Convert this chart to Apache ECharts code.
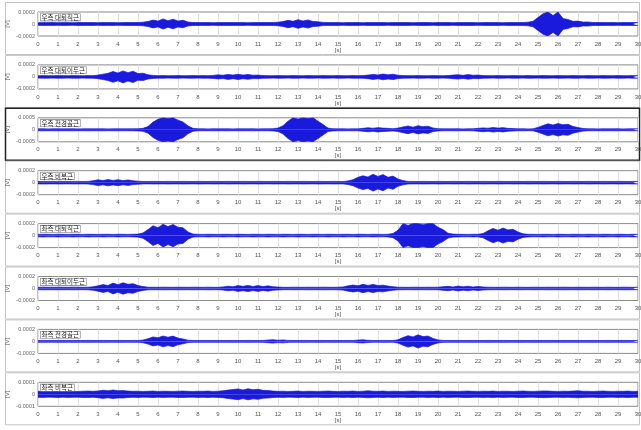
<!DOCTYPE html>
<html><head><meta charset="utf-8">
<script src="https://cdn.jsdelivr.net/npm/echarts@6/dist/echarts.min.js"></script>
<style>html,body{margin:0;padding:0;background:#fff}#c{width:641px;height:430px}</style>
</head><body><div id="c"></div>
<script>
// time step 0.25 s, 0..30 s ; amplitudes of the signal envelope in microvolts
const STEP = 0.25;
const titles = ['우측 대퇴직근','우측 대퇴이두근','우측 전경골근','우측 비복근','좌측 대퇴직근','좌측 대퇴이두근','좌측 전경골근','좌측 비복근'];
const yMax = [0.0002,0.0002,0.0005,0.0002,0.0002,0.0002,0.0002,0.0001];

const amp1 = [22,24,23,25,22,24,23,22,25,24,23,24,22,25,23,24,22,23,25,24,
 24,30,42,65,48,85,55,80,50,62,32,25,24,23,25,22,24,23,25,24,
 23,25,22,24,23,25,24,26,30,40,62,45,72,50,68,42,38,27,24,23,
 24,22,25,23,24,22,25,24,23,25,22,24,23,25,24,22,23,25,24,22,
 24,23,25,22,24,23,25,24,22,23,25,24,23,22,25,24,23,25,30,45,
 110,170,200,140,200,90,75,45,48,32,34,26,25,24,23,25,22,24,23,25,24];
const amp2 = [20,22,21,20,22,21,20,22,21,20,22,21,30,45,60,90,65,100,70,95,
 55,62,35,25,21,22,20,21,22,20,21,22,20,22,21,25,34,28,42,30,
 44,30,40,28,30,22,21,20,22,21,20,22,21,20,22,21,20,22,21,20,
 22,21,20,22,21,22,30,42,32,48,35,45,28,22,21,20,22,21,20,22,
 21,20,22,30,36,26,38,28,30,22,21,20,22,21,20,22,21,20,22,21,
 20,22,21,20,22,21,20,22,21,20,22,21,20,22,21,20,22,21,20,22,21];
const amp3 = [40,42,38,40,41,39,40,42,38,40,41,39,40,42,38,40,41,39,40,42,
 45,60,140,320,440,500,470,500,400,330,160,60,42,40,38,41,39,40,42,38,
 40,41,39,42,38,40,41,45,70,170,360,500,450,500,470,500,360,220,70,45,
 40,42,38,41,39,60,85,65,90,70,60,45,70,120,160,110,170,130,150,75,
 45,41,39,40,42,38,40,41,60,80,65,95,70,90,60,50,40,42,38,41,
 100,180,250,200,260,210,230,140,95,55,42,40,38,41,39,40,42,38,40,41,40];
const amp4 = [20,22,21,20,22,21,20,22,21,20,22,32,48,36,52,38,50,35,46,32,
 25,21,20,22,21,20,22,21,20,22,21,20,22,21,20,22,21,20,22,21,
 20,22,21,20,22,21,20,22,21,20,22,21,20,22,21,20,22,21,20,22,
 21,20,30,50,90,115,95,140,105,135,90,110,60,35,22,21,20,22,21,20,
 22,21,20,22,21,20,22,21,20,22,21,20,22,21,20,22,21,20,22,21,
 20,22,21,20,22,21,20,22,21,20,22,21,20,22,21,20,22,21,20,22,21];
const amp5 = [20,22,21,20,22,21,20,22,21,20,22,21,20,22,21,20,22,21,20,22,
 25,45,100,165,130,190,150,185,140,130,60,25,21,20,22,21,20,22,21,20,
 22,21,20,22,21,20,22,21,20,22,21,20,22,21,20,22,21,20,22,21,
 20,22,21,20,22,21,20,22,21,20,22,35,90,200,170,200,200,180,200,200,
 140,100,40,25,22,21,20,22,21,35,80,120,90,125,95,105,60,30,22,21,
 20,22,21,20,22,21,20,22,21,20,22,21,20,22,21,20,22,21,20,22,21];
const amp6 = [20,22,21,20,22,21,20,22,21,20,22,28,45,65,50,90,62,95,70,80,
 50,32,22,21,20,22,21,20,22,21,20,22,21,20,22,21,20,26,38,30,
 48,36,52,34,48,32,44,28,24,21,20,22,21,20,22,21,20,22,21,20,
 22,26,44,58,45,70,52,68,50,56,40,30,22,21,20,22,21,20,22,21,
 22,30,36,26,40,28,38,25,34,26,22,21,20,22,21,20,22,21,20,22,
 21,20,22,21,20,22,21,20,22,21,20,22,21,20,22,21,20,22,21,20,22];
const amp7 = [15,16,15,14,16,15,14,16,15,14,16,15,14,16,15,14,16,15,14,16,
 15,22,45,75,60,90,70,88,55,40,20,15,14,16,15,14,16,15,14,16,
 15,14,16,15,14,16,22,28,20,24,16,15,14,16,15,14,16,15,14,16,
 15,14,16,15,22,26,18,15,14,16,15,14,28,65,95,75,110,80,90,50,
 25,16,15,14,16,15,14,16,15,14,16,15,14,16,15,14,16,15,14,16,
 15,14,16,15,14,16,15,14,16,15,14,16,15,14,16,15,14,16,15,14,15];
const amp8 = [25,26,24,25,27,24,26,25,24,26,27,25,28,34,29,36,30,31,27,25,
 26,24,25,27,24,26,25,24,26,27,25,24,26,25,27,24,26,29,35,40,
 45,36,46,38,42,33,31,27,25,26,24,25,27,24,26,25,24,26,27,25,
 24,26,25,27,24,26,29,26,25,27,24,26,25,24,26,27,25,24,26,25,
 27,24,26,25,24,26,27,25,24,26,25,27,24,26,25,24,26,27,25,24,
 26,28,27,25,24,26,25,27,29,26,25,24,26,27,25,24,26,25,27,24,25];
const amps = [amp1,amp2,amp3,amp4,amp5,amp6,amp7,amp8];

const chart = echarts.init(document.getElementById('c'), null, {renderer:'canvas'});
const TOP0 = 12, GAP = 52.9, H = 24, LEFT = 38, W = 600;
const BLUE = '#1a1adc';
const grids=[], xAxes=[], yAxes=[], series=[], graphics=[];
amps.forEach((a,i)=>{
  const top = TOP0 + i*GAP;
  graphics.push({type:'rect', z:-10, shape:{x:5.5,y:top-9.5,width:634,height:52}, style:{fill:'#fff', stroke: i===2?'#222':'#c4c4c4', lineWidth: i===2?1.5:1}});
  grids.push({left:LEFT, top:top, width:W, height:H, show:true, borderColor:'#8a8a8a', borderWidth:1, backgroundColor:'#fff', containLabel:false, outerBoundsMode:'none'});
  xAxes.push({type:'value', gridIndex:i, min:0, max:30, interval:1,
    axisLine:{show:false}, axisTick:{show:false},
    axisLabel:{fontSize:6, color:'#555', margin:5, formatter:v=>String(v)},
    splitLine:{show:true, lineStyle:{color:'#e2e2e2', width:1}}});
  const m = yMax[i];
  yAxes.push({type:'value', gridIndex:i, min:-m, max:m, interval:m,
    name:'[V]', nameLocation:'middle', nameGap:28, nameRotate:90, nameMoveOverlap:false,
    nameTextStyle:{fontSize:6, color:'#555'},
    axisLine:{show:false}, axisTick:{show:false},
    axisLabel:{fontSize:5.5, color:'#666', margin:3, formatter:v=> v===0?'0':v.toFixed(4)},
    splitLine:{show:false}});
  const up = a.map((v,k)=>[k*STEP, v*1e-6]);
  const dn = a.map((v,k)=>[k*STEP, -v*1e-6]);
  [up,dn].forEach(d=>series.push({type:'line', xAxisIndex:i, yAxisIndex:i, data:d, showSymbol:false,
    silent:true, animation:false, lineStyle:{color:BLUE, width:0.7}, areaStyle:{color:BLUE, opacity:1}, clip:true}));
  graphics.push({type:'text', z:10, left:LEFT+2, top:top+1.5, style:{text:titles[i], font:'6.5px "Noto Sans CJK KR"', fill:'#222', backgroundColor:'#fff', borderColor:'#777', borderWidth:0.6, padding:[0,1]}});
  graphics.push({type:'text', z:10, x:LEFT+W/2, y:top+H+11, style:{text:'[s]', font:'6px sans-serif', fill:'#555', align:'center'}});
});
chart.setOption({animation:false, backgroundColor:'#fff', grid:grids, xAxis:xAxes, yAxis:yAxes, series:series, graphic:graphics});
</script></body></html>
